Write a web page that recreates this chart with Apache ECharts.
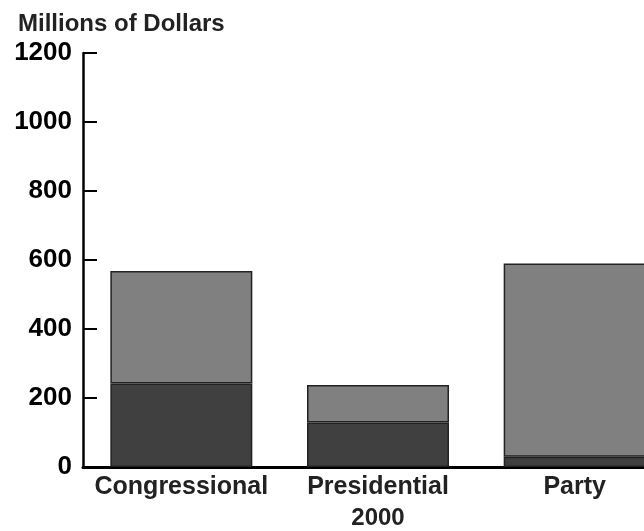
<!DOCTYPE html>
<html>
<head>
<meta charset="utf-8">
<script src="https://cdn.jsdelivr.net/npm/echarts@6/dist/echarts.min.js"></script>
<style>html,body{margin:0;padding:0;background:#fff;}#c{width:644px;height:531px;}</style>
</head>
<body>
<div id="c"></div>
<script>
var categories = ['Congressional', 'Presidential', 'Party'];
var categorySubLabels = ['', '2000', ''];
var lowerValues = [242, 129, 30];
var upperValues = [326, 109, 560];
var yTicks = { min: 0, max: 1200, interval: 200 };
var yAxisTitle = 'Millions of Dollars';

var chart = echarts.init(document.getElementById('c'), null, { renderer: 'canvas' });
chart.setOption({
  animation: false,
  backgroundColor: '#ffffff',
  title: {
    text: yAxisTitle,
    left: 13, top: 7,
    textStyle: { fontFamily: 'Liberation Sans, Arial, sans-serif', fontWeight: 'bold', fontSize: 24, color: '#222' }
  },
  grid: { left: 83, top: 53, width: 590, height: 414, containLabel: false, outerBoundsMode: 'none' },
  xAxis: {
    type: 'category',
    data: categories,
    axisLine: { lineStyle: { color: '#000', width: 3 } },
    axisTick: { show: false },
    axisLabel: {
      margin: 5,
      interval: 0,
      formatter: function (v, i) {
        var sub = categorySubLabels[i];
        return sub ? '{a|' + v + '}\n{b|' + sub + '}' : '{a|' + v + '}';
      },
      rich: {
        a: { fontFamily: 'Liberation Sans, Arial, sans-serif', fontWeight: 'bold', fontSize: 25, color: '#222', lineHeight: 30 },
        b: { fontFamily: 'Liberation Sans, Arial, sans-serif', fontWeight: 'bold', fontSize: 24, color: '#222', lineHeight: 32 }
      }
    }
  },
  yAxis: {
    type: 'value',
    min: yTicks.min, max: yTicks.max, interval: yTicks.interval,
    splitLine: { show: false },
    axisLine: { show: true, lineStyle: { color: '#000', width: 2.5 } },
    axisTick: { show: true, inside: true, length: 14, lineStyle: { color: '#000', width: 2 } },
    axisLabel: {
      margin: 11,
      padding: [4, 0, 0, 0],
      formatter: function (v) { return String(v); },
      fontFamily: 'Liberation Sans, Arial, sans-serif', fontWeight: 'bold', fontSize: 26, color: '#000'
    }
  },
  series: [
    {
      type: 'bar', stack: 'total', data: lowerValues,
      barCategoryGap: '27.8%',
      itemStyle: { color: '#404040', borderColor: '#222', borderWidth: 1.5 }
    },
    {
      type: 'bar', stack: 'total', data: upperValues,
      barCategoryGap: '27.8%',
      itemStyle: { color: '#808080', borderColor: '#222', borderWidth: 1.5 }
    }
  ]
});
</script>
</body>
</html>
